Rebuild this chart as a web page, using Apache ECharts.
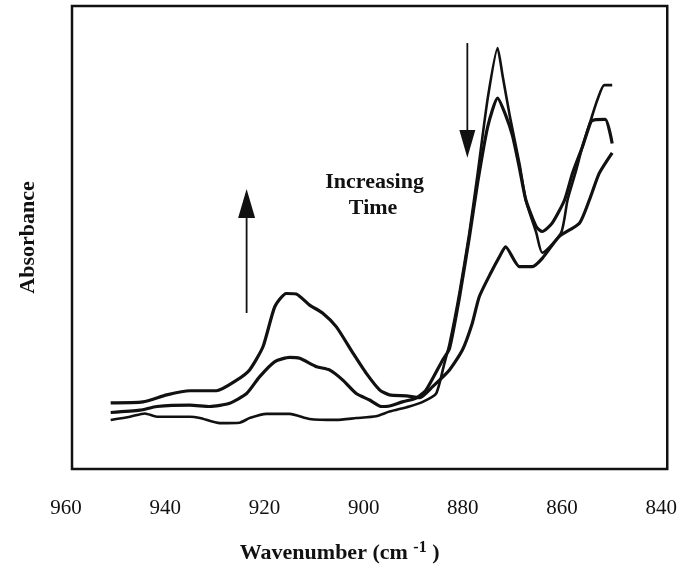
<!DOCTYPE html>
<html>
<head>
<meta charset="utf-8">
<script src="https://cdn.jsdelivr.net/npm/echarts@6/dist/echarts.min.js"></script>
<style>
  html, body { margin: 0; padding: 0; background: #fff; }
  #main { width: 680px; height: 571px; }
</style>
</head>
<body>
<div id="main"></div>
<script>
// spectra (wavenumber in cm-1, absorbance in arbitrary units)
// A = latest time, C = earliest time
const wnA = [952.2, 945.7, 940.9, 936.2, 930.9, 926.8, 924.2, 921.5, 919.1, 916.8, 914.8, 912.1, 909.5, 906.7, 903.4, 900.7, 898.0, 896.0, 892.6, 889.9, 887.3, 883.9, 881.3, 879.3, 877.9, 875.5, 873.8, 872.6, 869.8, 867.2, 865.2, 861.8, 857.7, 855.7, 853.7, 851.1];
const abA = [14.3, 14.5, 16.0, 16.9, 16.9, 19.2, 21.4, 26.4, 35.1, 37.9, 37.8, 35.4, 33.7, 30.7, 25.1, 20.7, 17.1, 16.0, 15.8, 15.4, 17.8, 21.4, 25.7, 31.5, 37.2, 42.5, 45.9, 48.0, 43.7, 43.7, 45.5, 50.2, 53.1, 58.1, 63.9, 68.3];

const wnB = [952.2, 946.3, 942.9, 936.2, 932.2, 928.2, 924.8, 922.2, 919.1, 916.1, 914.1, 910.7, 908.1, 905.4, 902.7, 900.0, 897.6, 896.0, 893.4, 890.6, 888.6, 885.3, 883.9, 881.9, 879.9, 878.2, 876.2, 874.2, 872.6, 871.2, 869.8, 868.5, 866.4, 865.2, 863.2, 860.7, 859.1, 857.1, 855.4, 854.7, 852.5, 851.1];
const abB = [12.2, 12.7, 13.5, 13.8, 13.5, 14.2, 16.3, 19.9, 23.2, 24.1, 23.9, 22.1, 21.4, 19.2, 16.3, 14.9, 13.5, 13.6, 14.5, 15.3, 17.1, 23.5, 26.0, 37.0, 50.0, 62.0, 73.9, 80.1, 76.5, 72.0, 65.0, 58.1, 52.3, 51.3, 53.1, 58.1, 63.9, 69.6, 75.0, 75.4, 75.5, 70.3];

const wnC = [952.2, 948.3, 945.3, 942.9, 936.2, 934.2, 930.2, 926.2, 924.2, 920.8, 916.1, 912.1, 906.7, 902.7, 898.7, 896.0, 892.0, 889.3, 886.6, 885.0, 883.9, 881.9, 879.9, 878.2, 876.2, 874.2, 873.2, 871.7, 869.8, 868.5, 866.4, 865.2, 861.4, 860.1, 858.5, 857.1, 855.4, 854.1, 852.7, 851.1];
const abC = [10.6, 11.3, 12.0, 11.3, 11.3, 11.0, 9.9, 10.0, 11.0, 11.9, 11.9, 10.8, 10.6, 11.0, 11.4, 12.4, 13.5, 14.5, 16.3, 22.5, 27.0, 38.0, 51.0, 64.0, 80.0, 90.9, 85.0, 76.0, 66.0, 58.0, 51.0, 46.7, 51.0, 58.1, 64.0, 69.6, 75.4, 79.7, 82.9, 82.9];

const xMin = 840, xMax = 960, xStep = 20;

const serif = '"Liberation Serif", "DejaVu Serif", serif';

function pairs(xs, ys) {
  return xs.map((x, i) => [x, ys[i]]);
}

function lineSeries(name, xs, ys, width) {
  return {
    name: name,
    type: 'line',
    data: pairs(xs, ys),
    showSymbol: false,
    smooth: 0.2,
    lineStyle: { color: '#111', width: width },
    silent: true
  };
}

const chart = echarts.init(document.getElementById('main'));

const option = {
  animation: false,
  backgroundColor: '#fff',
  grid: {
    left: 72, right: 12, top: 6, bottom: 102,
    show: true,
    borderColor: '#111',
    borderWidth: 2.5
  },
  xAxis: {
    type: 'value',
    inverse: true,
    min: xMin, max: xMax, interval: xStep,
    axisLine: { show: false },
    axisTick: { show: false },
    splitLine: { show: false },
    axisLabel: {
      color: '#111',
      fontFamily: serif,
      fontSize: 21,
      margin: 29,
      padding: [0, 12, 0, 0]
    },
    name: '{a|Wavenumber (cm }{s|-1}{a| )}',
    nameLocation: 'middle',
    nameGap: 71,
    nameTextStyle: {
      padding: [0, 60, 0, 0],
      rich: {
        a: { fontFamily: serif, fontSize: 22, fontWeight: 'bold', color: '#111' },
        s: { fontFamily: serif, fontSize: 16, fontWeight: 'bold', color: '#111', padding: [0, 0, 10, 0] }
      }
    }
  },
  yAxis: {
    type: 'value',
    min: 0, max: 100,
    axisLine: { show: false },
    axisTick: { show: false },
    axisLabel: { show: false },
    splitLine: { show: false },
    name: 'Absorbance',
    nameLocation: 'middle',
    nameGap: 33,
    nameTextStyle: { fontFamily: serif, fontSize: 22, fontWeight: 'bold', color: '#111' }
  },
  series: [
    lineSeries('late', wnA, abA, 3.2),
    lineSeries('mid', wnB, abB, 3.2),
    lineSeries('early', wnC, abC, 2.6)
  ]
};

chart.setOption(option);

// annotations placed in data space
function px(w, v) {
  return chart.convertToPixel({ gridIndex: 0 }, [w, v]);
}

function arrow(w, vFrom, vBase, vTip, headW) {
  const a = px(w, vFrom), b = px(w, vBase), t = px(w, vTip);
  return [
    { type: 'line', shape: { x1: a[0], y1: a[1], x2: b[0], y2: b[1] }, style: { stroke: '#111', lineWidth: 1.8 } },
    { type: 'polygon', shape: { points: [[b[0] - headW / 2, b[1]], [b[0] + headW / 2, b[1]], [t[0], t[1]]] }, style: { fill: '#111' } }
  ];
}

const txt1 = px(899.0, 62.0);
const txt2 = px(899.3, 56.2);

chart.setOption({
  graphic: [].concat(
    arrow(924.8, 33.7, 54.2, 60.5, 17),
    arrow(880.3, 92.0, 73.2, 67.2, 16),
    [
      { type: 'text', x: txt1[0], y: txt1[1], style: { text: 'Increasing', font: 'bold 22px ' + serif, fill: '#111', align: 'center', verticalAlign: 'middle' } },
      { type: 'text', x: txt2[0], y: txt2[1], style: { text: 'Time', font: 'bold 22px ' + serif, fill: '#111', align: 'center', verticalAlign: 'middle' } }
    ]
  )
});
</script>
</body>
</html>
